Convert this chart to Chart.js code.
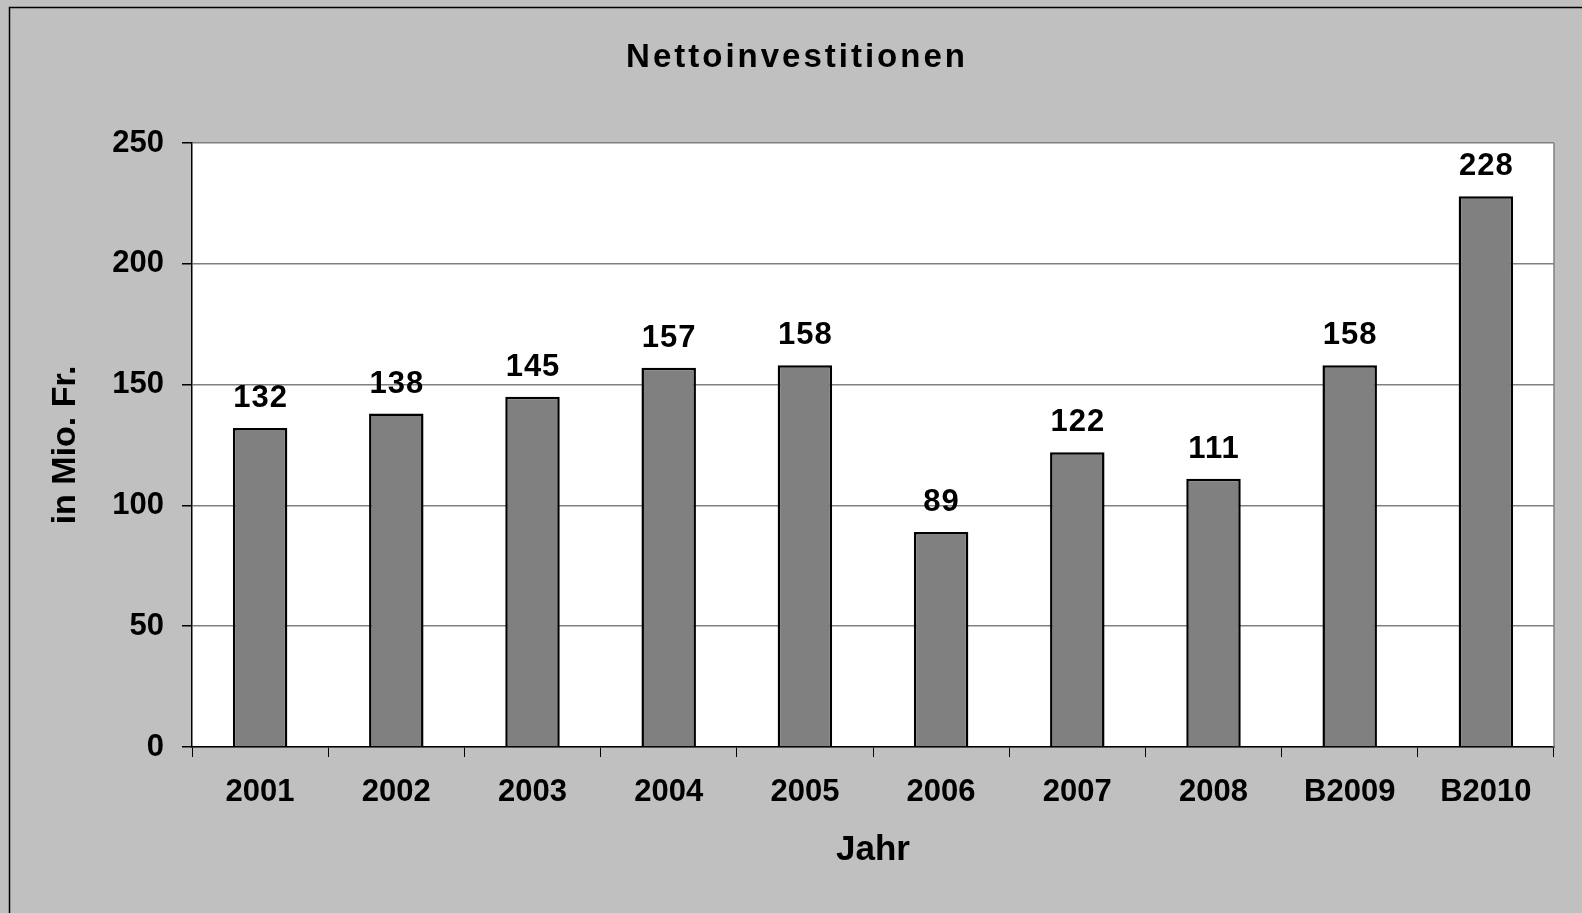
<!DOCTYPE html>
<html>
<head>
<meta charset="utf-8">
<script src="https://cdn.jsdelivr.net/npm/chart.js@4/dist/chart.umd.min.js"></script>
<style>
  html, body { margin: 0; padding: 0; background: #c0c0c0; }
  canvas { display: block; }
</style>
</head>
<body>
<canvas id="myChart" width="1582" height="913"></canvas>
<script>
const chartTitle = 'Nettoinvestitionen';
const years = ['2001', '2002', '2003', '2004', '2005', '2006', '2007', '2008', 'B2009', 'B2010'];
const investments = [132, 138, 145, 157, 158, 89, 122, 111, 158, 228];
const yTicks = [0, 50, 100, 150, 200, 250];

const fontFamily = '"Liberation Sans", Arial, sans-serif';

// background, frame, plot area and labels
const decorPlugin = {
  id: 'decor',
  beforeDraw(chart) {
    const ctx = chart.ctx;
    const area = chart.chartArea;
    ctx.save();
    ctx.fillStyle = '#c0c0c0';
    ctx.fillRect(0, 0, chart.width, chart.height);
    ctx.strokeStyle = '#000';
    ctx.lineWidth = 1.5;
    ctx.strokeRect(9.5, 7.5, chart.width + 20, chart.height + 20);
    ctx.fillStyle = '#fff';
    ctx.fillRect(area.left, area.top, area.right - area.left, area.bottom - area.top);
    ctx.restore();
  },
  afterDraw(chart) {
    const ctx = chart.ctx;
    const area = chart.chartArea;
    ctx.save();
    ctx.strokeStyle = '#808080';
    ctx.lineWidth = 1.5;
    ctx.beginPath();
    ctx.moveTo(area.right, area.top);
    ctx.lineTo(area.right, area.bottom);
    ctx.stroke();

    // title
    ctx.fillStyle = '#000';
    ctx.font = 'bold 33px ' + fontFamily;
    ctx.textAlign = 'center';
    ctx.textBaseline = 'alphabetic';
    ctx.letterSpacing = '3px';
    ctx.fillText(chartTitle, 797, 67);

    // value labels
    ctx.font = 'bold 31px ' + fontFamily;
    ctx.letterSpacing = '1px';
    const meta = chart.getDatasetMeta(0);
    meta.data.forEach(function(bar, i) {
      ctx.fillText(String(investments[i]), bar.x + 0.5, bar.y - 21);
    });
    ctx.restore();
  }
};

createChart();

function createChart() {
  const ctx = document.getElementById('myChart').getContext('2d');

  new Chart(ctx, {
    type: 'bar',
    data: {
      labels: years,
      datasets: [{
        label: chartTitle,
        data: investments,
        backgroundColor: '#808080',
        borderColor: '#000',
        borderWidth: 2.5,
        barPercentage: 0.4,
        categoryPercentage: 1.0,
      }]
    },
    options: {
      responsive: false,
      animation: false,
      layout: {
        padding: { top: 143, right: 28, bottom: 42, left: 0 }
      },
      plugins: {
        legend: { display: false },
        tooltip: { enabled: false },
      },
      scales: {
        x: {
          afterFit(scale) { scale.height = 124; },
          grid: {
            drawOnChartArea: false,
            tickColor: '#000',
            tickLength: 10,
            offset: true,
          },
          border: { color: '#000', width: 1.5 },
          ticks: {
            color: '#000',
            padding: 17,
            font: { family: fontFamily, size: 31, weight: 'bold' },
          },
          title: {
            display: true,
            text: 'Jahr',
            color: '#000',
            padding: { top: 0, bottom: 0 },
            font: { family: fontFamily, size: 35, weight: 'bold' },
          },
        },
        y: {
          min: 0,
          max: 250,
          afterFit(scale) { scale.width = 192; },
          afterBuildTicks(scale) {
            scale.ticks = yTicks.map(function(v) { return { value: v }; });
          },
          grid: {
            color: '#808080',
            lineWidth: 1.5,
            tickColor: '#000',
            tickLength: 10,
          },
          border: { color: '#000', width: 1.5 },
          ticks: {
            color: '#000',
            padding: 18,
            font: { family: fontFamily, size: 31, weight: 'bold' },
          },
          title: {
            display: true,
            text: 'in Mio. Fr.',
            color: '#000',
            padding: { top: 45, bottom: 0 },
            font: { family: fontFamily, size: 34, weight: 'bold' },
          },
        }
      }
    },
    plugins: [decorPlugin],
  });
}
</script>
</body>
</html>
